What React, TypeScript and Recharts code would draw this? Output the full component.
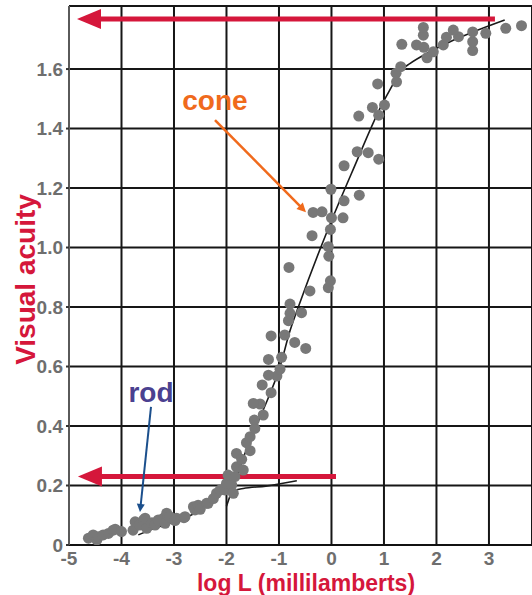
import React from "react";
import {
  ScatterChart,
  Scatter,
  XAxis,
  YAxis,
  CartesianGrid,
  ReferenceLine,
} from "recharts";

// axis ticks
const xTicks = [-5, -4, -3, -2, -1, 0, 1, 2, 3];
const xTickLabels = ["-5", "-4", "-3", "-2", "-1", "0", "1", "2", "3"];
const yTicks = [0, 0.2, 0.4, 0.6, 0.8, 1.0, 1.2, 1.4, 1.6];
const yTickLabels = ["0", "0.2", "0.4", "0.6", "0.8", "1.0", "1.2", "1.4", "1.6"];

// measured points, low luminance (rod) part
const rodPoints: [number, number][] = [
  [-4.63, 0.023], [-4.54, 0.034], [-4.47, 0.017], [-4.44, 0.028], [-4.35, 0.034],
  [-4.25, 0.039], [-4.16, 0.05], [-4.12, 0.053], [-4.0, 0.045], [-3.78, 0.05],
  [-3.74, 0.078], [-3.65, 0.067], [-3.58, 0.084], [-3.52, 0.056], [-3.55, 0.09],
  [-3.42, 0.075], [-3.36, 0.067], [-3.3, 0.084], [-3.2, 0.09], [-3.17, 0.073],
  [-3.14, 0.107], [-3.08, 0.095], [-2.98, 0.082], [-2.95, 0.09], [-2.81, 0.092],
  [-2.79, 0.095], [-2.63, 0.129], [-2.6, 0.118], [-2.54, 0.134], [-2.5, 0.12],
  [-2.38, 0.14], [-2.35, 0.14], [-2.25, 0.156], [-2.19, 0.174], [-2.12, 0.185],
];

// measured points, high luminance (cone) part
const conePoints: [number, number][] = [
  [-2.03, 0.185], [-2.0, 0.207], [-1.97, 0.235], [-1.9, 0.202], [-1.87, 0.174],
  [-1.84, 0.23], [-1.81, 0.263], [-1.81, 0.308], [-1.71, 0.288], [-1.68, 0.252],
  [-1.62, 0.344], [-1.55, 0.317], [-1.55, 0.364], [-1.46, 0.392], [-1.47, 0.42],
  [-1.3, 0.437], [-1.36, 0.474], [-1.49, 0.476], [-1.15, 0.512], [-1.32, 0.538],
  [-1.04, 0.568], [-1.2, 0.571], [-0.98, 0.591], [-0.95, 0.631], [-1.2, 0.624],
  [-0.49, 0.661], [-0.7, 0.681], [-0.89, 0.706], [-1.15, 0.703], [-0.82, 0.754],
  [-0.57, 0.781], [-0.79, 0.779], [-0.79, 0.81], [-0.41, 0.854], [-0.06, 0.865],
  [-0.02, 0.888], [-0.81, 0.933], [-0.05, 0.971], [-0.06, 1.003], [-0.37, 1.04],
  [-0.02, 1.061], [0.0, 1.1], [0.22, 1.1], [-0.35, 1.118], [-0.18, 1.12],
  [0.24, 1.157], [0.53, 1.176], [-0.01, 1.196], [0.24, 1.275], [0.9, 1.297],
  [0.7, 1.319], [0.49, 1.322], [0.52, 1.442], [0.9, 1.445], [0.78, 1.471],
  [1.01, 1.479], [0.88, 1.55], [1.24, 1.557], [1.23, 1.586], [1.32, 1.608],
  [1.82, 1.638], [1.94, 1.658], [2.69, 1.662], [1.76, 1.673], [1.62, 1.681],
  [2.13, 1.681], [1.34, 1.683], [2.69, 1.692], [2.19, 1.707], [2.42, 1.709],
  [1.75, 1.714], [2.94, 1.72], [2.69, 1.725], [2.32, 1.731], [3.32, 1.737],
  [1.75, 1.74], [3.62, 1.746],
];

// hand-drawn fit curves
const rodCurve: [number, number][] = [
  [-3.68, 0.034], [-3.46, 0.05], [-3.27, 0.062], [-3.0, 0.078], [-2.5, 0.118],
  [-2.22, 0.162], [-1.68, 0.19], [-1.25, 0.198], [-0.66, 0.216],
];
const coneCurve: [number, number][] = [
  [-2.0, 0.13], [-1.55, 0.353], [-1.3, 0.454], [-0.98, 0.6], [-0.79, 0.72],
  [-0.6, 0.815], [-0.07, 1.06], [0.41, 1.261], [0.956, 1.479], [1.147, 1.541],
  [1.305, 1.591], [1.5, 1.619], [1.876, 1.658], [2.32, 1.697], [2.7, 1.725],
  [3.3, 1.765],
];

const toXY = (pts: [number, number][]) => pts.map(([x, y]) => ({ x, y }));

const FONT = "'Liberation Sans', Arial, Helvetica, sans-serif";
const RED = "#d5173b";
const DOT = "#787878";

function ArrowShape(props: any) {
  const { x1, y1, x2, y2, color, width, headLen, headHalf, text, textColor, textDy } = props;
  const dx = x2 - x1;
  const dy = y2 - y1;
  const len = Math.sqrt(dx * dx + dy * dy) || 1;
  const ux = dx / len;
  const uy = dy / len;
  const bx = x2 - ux * headLen;
  const by = y2 - uy * headLen;
  const px = -uy * headHalf;
  const py = ux * headHalf;
  return (
    <g>
      <line
        x1={x1}
        y1={y1}
        x2={x2 - ux * headLen * 0.7}
        y2={y2 - uy * headLen * 0.7}
        stroke={color}
        strokeWidth={width}
      />
      <polygon
        points={`${x2},${y2} ${bx + px},${by + py} ${bx - px},${by - py}`}
        fill={color}
      />
      {text ? (
        <text
          x={x1}
          y={y1 + textDy}
          textAnchor="middle"
          fill={textColor}
          fontFamily={FONT}
          fontWeight="bold"
          fontSize={28}
        >
          {text}
        </text>
      ) : null}
    </g>
  );
}

const tickStyle = {
  fill: "#6e6e6e",
  fontSize: 19,
  fontWeight: "bold" as const,
  fontFamily: FONT,
};

export default function App() {
  return (
    <div
      style={{
        position: "absolute",
        left: 0,
        top: 0,
        width: 532,
        height: 595,
        background: "#fff",
      }}
    >
      <ScatterChart
        width={532}
        height={595}
        margin={{ top: 6, right: 0, bottom: 0, left: 0 }}
      >
        <CartesianGrid stroke="#161616" strokeWidth={2} />
        <XAxis
          type="number"
          dataKey="x"
          domain={[-5, 3.82]}
          ticks={xTicks}
          tickFormatter={(v, i) => xTickLabels[i] ?? String(v)}
          allowDataOverflow
          height={50}
          tick={tickStyle}
          tickLine={false}
          tickSize={0}
          tickMargin={7}
          axisLine={{ stroke: "#111", strokeWidth: 2 }}
          label={{
            content: (p: any) => {
              const vb = p.viewBox || { x: 69, y: 545, width: 463, height: 50 };
              return (
                <text
                  x={vb.x + 237}
                  y={vb.y + 46}
                  textAnchor="middle"
                  fill={RED}
                  fontFamily={FONT}
                  fontWeight="bold"
                  fontSize={23}
                >
                  log L (millilamberts)
                </text>
              );
            },
          }}
        />
        <YAxis
          type="number"
          dataKey="y"
          domain={[0, 1.812]}
          ticks={yTicks}
          tickFormatter={(v, i) => yTickLabels[i] ?? String(v)}
          allowDataOverflow
          width={69}
          tick={tickStyle}
          tickLine={{ stroke: "#333", strokeWidth: 2 }}
          tickSize={3}
          tickMargin={3}
          axisLine={{ stroke: "#5a5a5a", strokeWidth: 2 }}
          label={{
            content: (p: any) => {
              const vb = p.viewBox || { x: 0, y: 6, width: 69, height: 539 };
              const cx = vb.x + 35;
              const cy = vb.y + vb.height / 2 + 4;
              return (
                <text
                  x={cx}
                  y={cy}
                  transform={`rotate(-90 ${cx} ${cy})`}
                  textAnchor="middle"
                  fill={RED}
                  fontFamily={FONT}
                  fontWeight="bold"
                  fontSize={28}
                >
                  Visual acuity
                </text>
              );
            },
          }}
        />
        <ReferenceLine y={1.812} stroke="#161616" strokeWidth={2} />
        <Scatter
          data={toXY(rodCurve)}
          line={{ stroke: "#1a1a1a", strokeWidth: 1.6 }}
          lineJointType="monotoneX"
          shape={() => <g />}
          legendType="none"
          isAnimationActive={false}
        />
        <Scatter
          data={toXY(coneCurve)}
          line={{ stroke: "#1a1a1a", strokeWidth: 1.6 }}
          lineJointType="monotoneX"
          shape={() => <g />}
          legendType="none"
          isAnimationActive={false}
        />
        <Scatter
          data={toXY(rodPoints)}
          shape={(p: any) => <circle cx={p.cx} cy={p.cy} r={5.5} fill={DOT} />}
          isAnimationActive={false}
        />
        <Scatter
          data={toXY(conePoints)}
          shape={(p: any) => <circle cx={p.cx} cy={p.cy} r={5.5} fill={DOT} />}
          isAnimationActive={false}
        />
        <ReferenceLine
          segment={[
            { x: 3.114, y: 1.768 },
            { x: -4.848, y: 1.768 },
          ]}
          shape={(p: any) => (
            <ArrowShape {...p} color={RED} width={5} headLen={24} headHalf={10} />
          )}
        />
        <ReferenceLine
          segment={[
            { x: 0.086, y: 0.23 },
            { x: -4.83, y: 0.23 },
          ]}
          shape={(p: any) => (
            <ArrowShape {...p} color={RED} width={5} headLen={24} headHalf={10} />
          )}
        />
        <ReferenceLine
          segment={[
            { x: -2.219, y: 1.4286 },
            { x: -0.486, y: 1.119 },
          ]}
          shape={(p: any) => (
            <ArrowShape
              {...p}
              color="#f06a1c"
              width={2.5}
              headLen={9}
              headHalf={4.5}
              text="cone"
              textColor="#f06a1c"
              textDy={-10}
            />
          )}
        />
        <ReferenceLine
          segment={[
            { x: -3.438, y: 0.464 },
            { x: -3.648, y: 0.111 },
          ]}
          shape={(p: any) => (
            <ArrowShape
              {...p}
              color="#1b4f8c"
              width={2}
              headLen={8}
              headHalf={4}
              text="rod"
              textColor="#4a4190"
              textDy={-5}
            />
          )}
        />
      </ScatterChart>
    </div>
  );
}
